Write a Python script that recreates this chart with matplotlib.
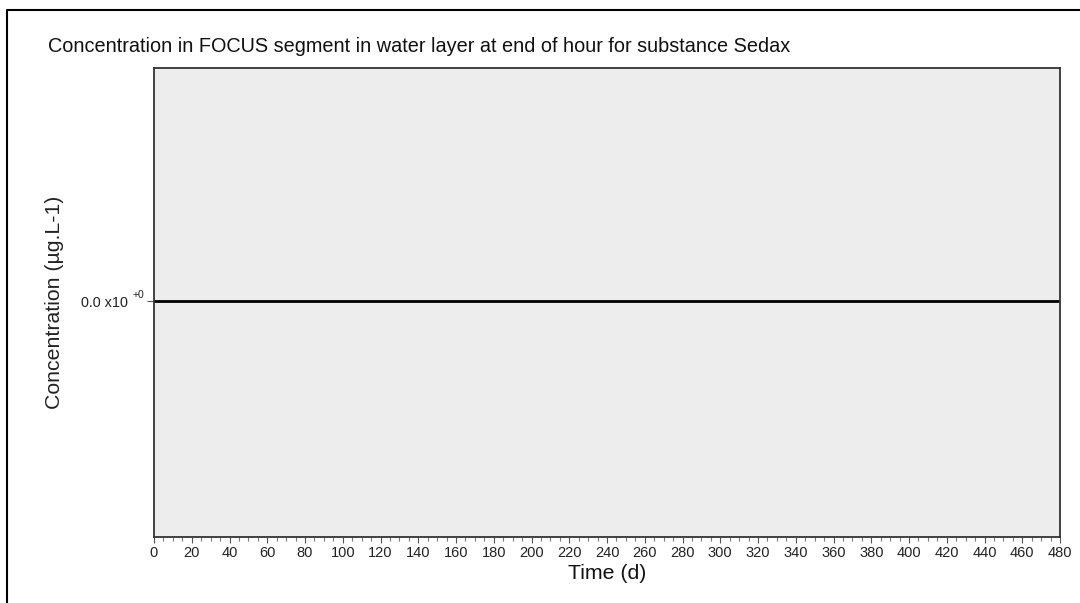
import matplotlib
matplotlib.use("Agg")
import matplotlib.pyplot as plt
from matplotlib.lines import Line2D
from matplotlib.ticker import MultipleLocator

plt.rcParams['font.family'] = ['Liberation Sans', 'DejaVu Sans']

# Data
time_d = [0, 480]
concentration = [0.0, 0.0]
x_ticks = list(range(0, 481, 20))
y_ticks = [0.0]
y_tick_labels = ["0.0 x10"]

title = "Concentration in FOCUS segment in water layer at end of hour for substance Sedax"
x_label = "Time (d)"
y_label = "Concentration (µg.L-1)"

W, H = 1080, 603
fig = plt.figure(figsize=(W / 100, H / 100), dpi=100)
fig.patch.set_facecolor("white")

left, right, top, bottom = 154, 1060, 68, 537
ax = fig.add_axes([left / W, 1 - bottom / H, (right - left) / W, (bottom - top) / H])
ax.set_facecolor("#EDEDED")

ax.plot(time_d, concentration, color="black", lw=2.0)

ax.set_xlim(0, 480)
ax.set_ylim(-1, 0.988)
ax.set_xticks(x_ticks)
ax.xaxis.set_minor_locator(MultipleLocator(5))
ax.set_yticks(y_ticks)
ax.set_yticklabels(y_tick_labels)

for s in ax.spines.values():
    s.set_color("#333333")
    s.set_linewidth(1.3)

ax.tick_params(axis="x", which="major", length=4, width=0.8, color="#555555",
               labelsize=10.5, pad=2.5, labelcolor="#222222")
ax.tick_params(axis="x", which="minor", length=3, width=0.8, color="#777777")
ax.tick_params(axis="y", which="major", length=5, width=0.8, color="#555555",
               labelsize=10.4, pad=14, labelcolor="#222222")

# superscript of the y tick label
ax.annotate("+0", xy=(0, 0), xycoords="data", xytext=(-15.5, 4.5), textcoords="offset points",
            fontsize=7.5, color="#222222", ha="left", va="center", annotation_clip=False)

ax.set_xlabel(x_label, fontsize=15.3, color="#111111", labelpad=3)
ax.set_ylabel(y_label, fontsize=15.3, color="#222222", labelpad=12)

fig.text(48 / W, 1 - 47 / H, title, fontsize=14.3, color="#111111",
         ha="left", va="center")

# outer frame (left and top edges)
fig.add_artist(Line2D([7 / W, 7 / W, 1.0], [0.0, 1 - 10 / H, 1 - 10 / H],
                      transform=fig.transFigure, color="black", lw=1.5))

fig.savefig("out.png", dpi=100)
